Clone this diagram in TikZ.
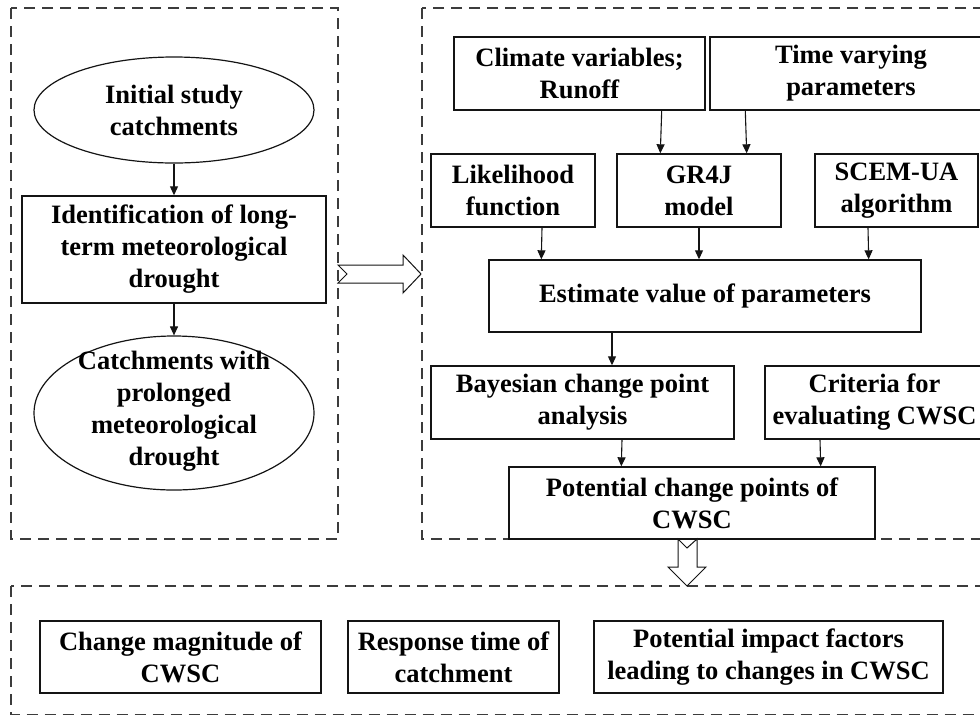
\documentclass[tikz,border=0pt]{standalone}
\usepackage{fontspec}
\setmainfont{Liberation Serif}
\definecolor{cwscline}{RGB}{20,20,20}
\definecolor{cwscdash}{RGB}{60,60,60}
\usepackage{tikz}
\usetikzlibrary{arrows.meta,positioning,shapes.geometric}
\tikzset{
  procbox/.style={rectangle,draw=cwscline,line width=1.4pt,fill=white,
                  inner sep=2pt,align=center,
                  font=\fontsize{26.5}{32}\selectfont\bfseries},
  ellip/.style={ellipse,draw=cwscline,line width=1.2pt,fill=white,inner sep=0pt},
  ellitext/.style={inner sep=0pt,align=center,
                   font=\fontsize{26.5}{32}\selectfont\bfseries},
  arr/.style={-{Triangle[length=9pt,width=8pt]},line width=1.1pt,cwscline},
  panel/.style={draw=cwscdash,line width=1.2pt,dash pattern=on 11pt off 7pt},
  hollow/.style={draw=cwscline,line width=1pt,fill=white,line join=miter},
}

\begin{document}
\begin{tikzpicture}[x=1pt,y=-1pt]
    \useasboundingbox (0,0) rectangle (980,716);
    \clip (0,0) rectangle (980,716);
    % dashed panels
    \draw[panel] (11,8) rectangle (338,539);
    \draw[panel] (422,8) rectangle (1000,539);
    \draw[panel] (11,586) rectangle (1000,714.5);

    % left panel
    \node[ellip,minimum width=280,minimum height=106,ellitext]
      (init) at (174,110) {Initial study\\catchments};
    \node[procbox,minimum width=304,minimum height=107]
      (ident) at (174,249.5) {Identification of long-\\term meteorological\\drought};
    \node[ellip,minimum width=280,minimum height=154]
      (final) at (174,413) {};
    \node[ellitext] (finaltext) at (174,411)
      {Catchments with\\prolonged\\meteorological\\drought};
    \draw[arr] (init) -- (ident);
    \draw[arr] (ident) -- (final);

    % right panel
    \node[procbox,minimum width=251,minimum height=73]
      (climate) at (579.5,73.5) {Climate variables;\\Runoff};
    \node[procbox,minimum width=282,minimum height=73]
      (time) at (851,73.5) {Time varying\\parameters};
    \node[procbox,minimum width=164,minimum height=73]
      (lik) at (513,190.5) {Likelihood\\function};
    \node[procbox,minimum width=164,minimum height=73]
      (gr4j) at (699,190.5) {GR4J\\model};
    \node[procbox,minimum width=163,minimum height=73]
      (scem) at (896.5,190.5) {SCEM-UA\\algorithm};
    \node[procbox,minimum width=432,minimum height=72]
      (est) at (705,296) {Estimate value of parameters};
    \node[procbox,minimum width=303,minimum height=73]
      (bayes) at (582.5,402.5) {Bayesian change point\\analysis};
    \node[procbox,minimum width=219,minimum height=73]
      (crit) at (874.5,402.5) {Criteria for\\evaluating CWSC};
    \node[procbox,minimum width=366,minimum height=72]
      (pcp) at (692,503) {Potential change points of\\CWSC};

    \draw[arr] ([xshift=-44pt]climate.south east) -- ([xshift=44pt]gr4j.north west);
    \draw[arr] ([xshift=36pt]time.south west) -- ([xshift=-35pt]gr4j.north east);
    \draw[arr] ([xshift=29pt]lik.south) -- ([xshift=53pt]est.north west);
    \draw[arr] (gr4j.south) -- (gr4j.south |- est.north);
    \draw[arr] ([xshift=-28.5pt]scem.south) -- ([xshift=-53pt]est.north east);
    \draw[arr] ([xshift=-93pt]est.south) -- ([xshift=29.5pt]bayes.north);
    \draw[arr] ([xshift=39.5pt]bayes.south) -- ([xshift=113pt]pcp.north west);
    \draw[arr] ([xshift=-54.5pt]crit.south) -- ([xshift=-55pt]pcp.north east);

    % bottom panel
    \node[procbox,minimum width=281,minimum height=72]
      (mag) at (180.5,657) {Change magnitude of\\CWSC};
    \node[procbox,minimum width=211,minimum height=72]
      (resp) at (453.5,657) {Response time of\\catchment};
    \node[procbox,minimum width=349,minimum height=72]
      (factors) at (768.5,657) {Potential impact factors\\leading to changes in CWSC};

    % hollow arrows between panels
    \draw[hollow] (338,265) -- (403,265) -- (403,255) -- (421,274) -- (403,293)
      -- (403,283) -- (338,283) -- (347,274) -- cycle;
    \draw[hollow] (678,539) -- (678,567) -- (668,567) -- (687,586) -- (706,567)
      -- (697,567) -- (697,539) -- (687,548) -- cycle;
\end{tikzpicture}
\end{document}
